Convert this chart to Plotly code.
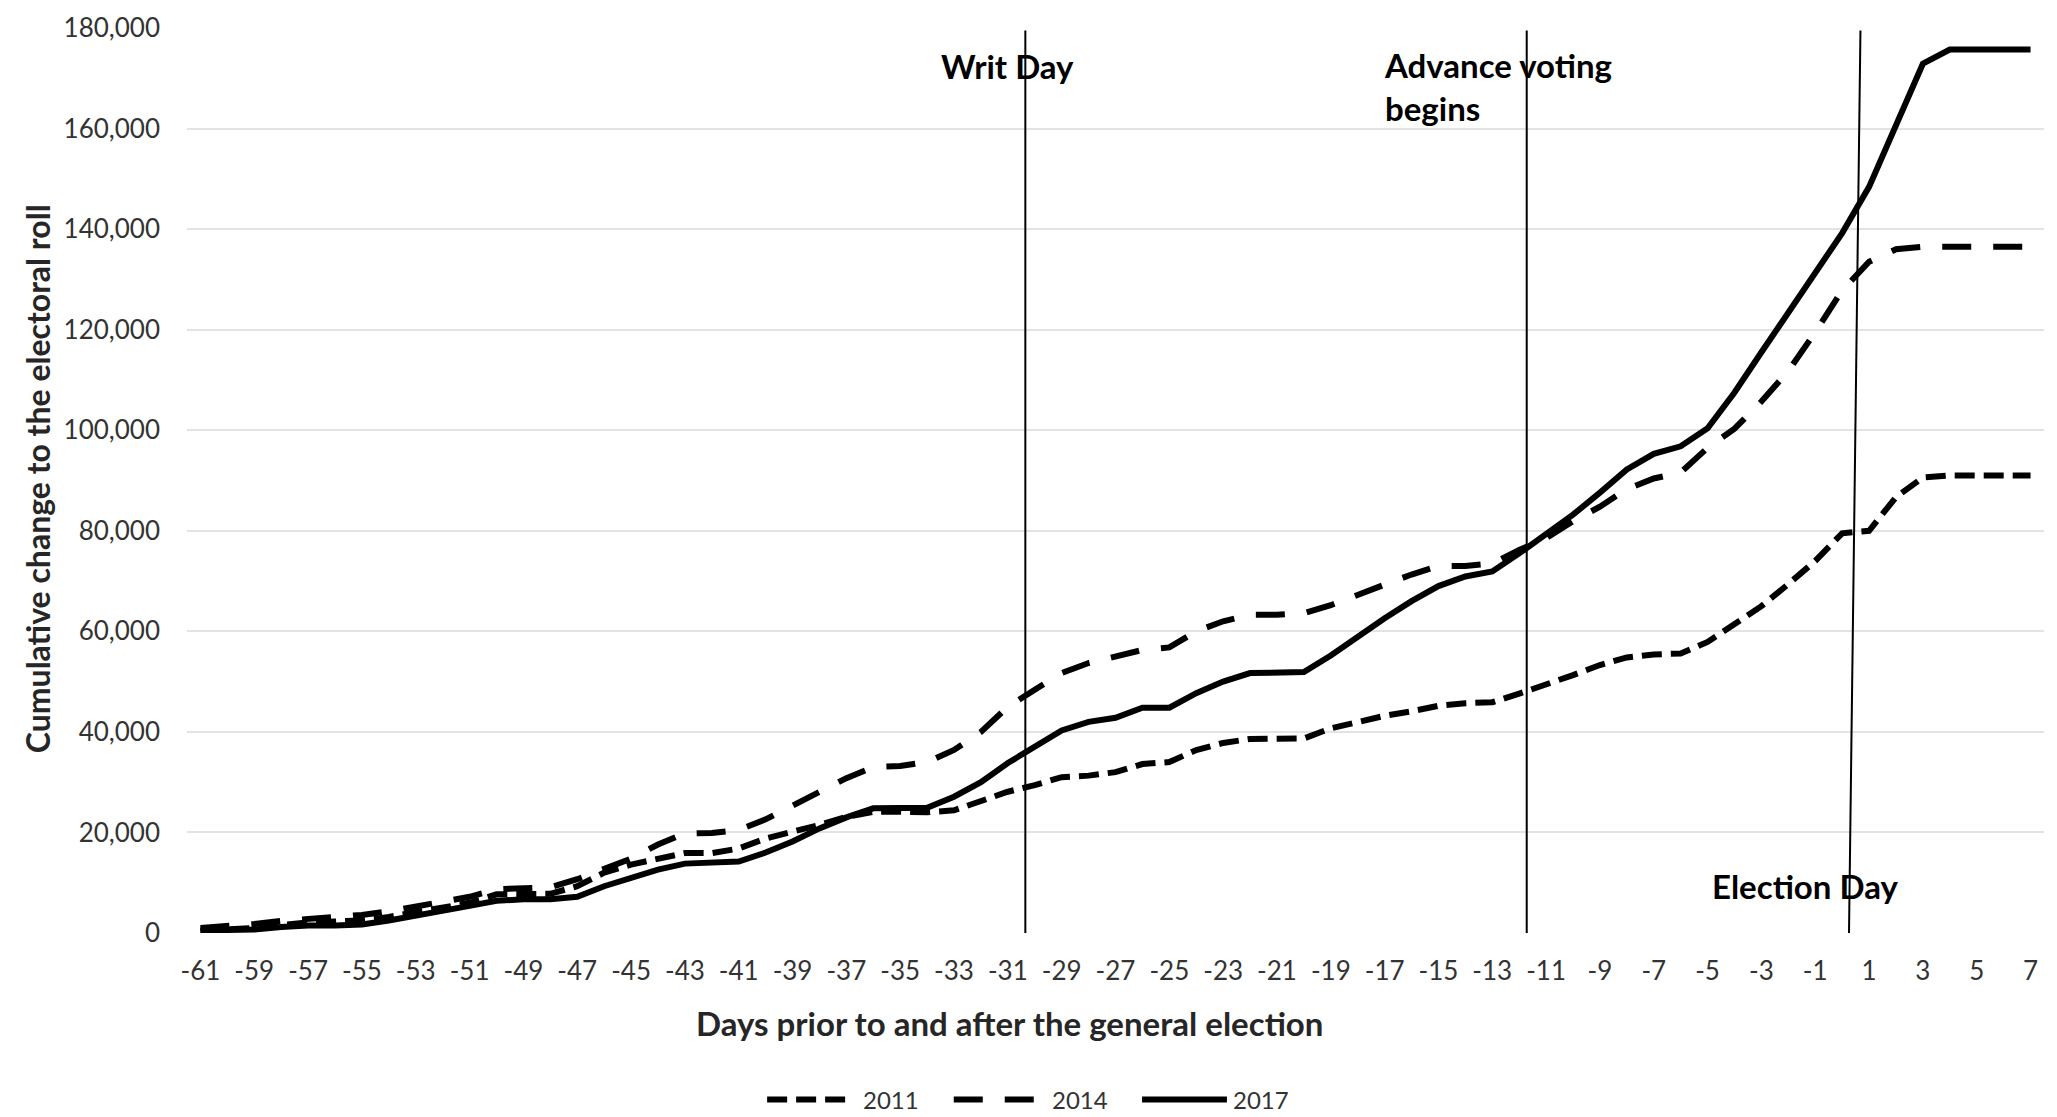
import plotly.graph_objects as go

# ---------------- data ----------------
days = [-61, -60, -59, -58, -57, -56, -55, -54, -53, -52, -51, -50, -49, -48, -47, -46,
        -45, -44, -43, -42, -41, -40, -39, -38, -37, -36, -35, -34, -33, -32, -31, -30,
        -29, -28, -27, -26, -25, -24, -23, -22, -21, -20, -19, -18, -17, -16, -15, -14,
        -13, -12, -11, -10, -9, -8, -7, -6, -5, -4, -3, -2, -1, 0, 1, 2, 3, 4, 5, 6, 7]

roll_2011 = [500, 700, 1000, 1600, 2100, 2300, 2500, 3200, 4100, 5000, 6000, 7700, 7700, 7800,
             9300, 12000, 13600, 14700, 15900, 15900, 16800, 18800, 20000, 21500, 23100, 24100,
             24100, 24000, 24400, 26100, 28100, 29400, 31000, 31300, 32000, 33600, 34000, 36400,
             37800, 38600, 38600, 38700, 40700, 42100, 43200, 44100, 45200, 45700, 45900, 47600,
             49300, 51300, 53300, 54800, 55400, 55600, 57900, 61400, 65000, 69400, 74000, 79500,
             80000, 86700, 90600, 91000, 91000, 91000, 91000]

roll_2014 = [1000, 1300, 1800, 2400, 2800, 3200, 3600, 4300, 5300, 6400, 7200, 8700, 8800, 9100,
             10700, 12700, 14800, 17600, 19800, 19900, 20500, 22600, 25400, 28000, 30800, 33000,
             33200, 34000, 36400, 40000, 45000, 48400, 51700, 53700, 55000, 56300, 56800, 60000,
             62000, 63300, 63300, 63600, 65200, 67400, 69300, 71300, 73000, 73000, 73500, 76200,
             78500, 81900, 84800, 88300, 90400, 91600, 96500, 100300, 105700, 111800, 119500,
             127800, 133500, 136000, 136500, 136500, 136500, 136500, 136500]

roll_2017 = [500, 500, 700, 1200, 1500, 1500, 1700, 2500, 3400, 4300, 5400, 6400, 6700, 6700,
             7200, 9300, 11000, 12600, 13800, 14100, 14200, 16000, 18200, 20800, 23000, 24800,
             24800, 24900, 27100, 30000, 33800, 37200, 40300, 42000, 42800, 44800, 44800, 47700,
             50000, 51700, 51800, 51900, 55200, 59000, 62600, 66000, 69000, 70900, 71900, 75500,
             79300, 83200, 87600, 92200, 95300, 96800, 100400, 107500, 115500, 123300, 131200,
             139200, 148400, 160500, 172900, 175700, 175700, 175700, 175700]

x_tick_values = [-61, -59, -57, -55, -53, -51, -49, -47, -45, -43, -41, -39, -37, -35, -33,
                 -31, -29, -27, -25, -23, -21, -19, -17, -15, -13, -11, -9, -7, -5, -3, -1,
                 1, 3, 5, 7]
x_tick_labels = ["-61", "-59", "-57", "-55", "-53", "-51", "-49", "-47", "-45", "-43", "-41",
                 "-39", "-37", "-35", "-33", "-31", "-29", "-27", "-25", "-23", "-21", "-19",
                 "-17", "-15", "-13", "-11", "-9", "-7", "-5", "-3", "-1", "1", "3", "5", "7"]

series_names = ["2011", "2014", "2017"]
series_dash = ["20px,9px", "29px,22px", "solid"]

# event marker lines (day at bottom, day at top) and labels
event_day_bottom = [-30.35, -11.72, 0.25]
event_day_top = [-30.35, -11.72, 0.68]

x_title = "Days prior to and after the general election"
y_title = "Cumulative change to the electoral roll"

FONT = "Lato"
BOLD_SIZE = 33

fig = go.Figure()
for name, vals, dash in zip(series_names, [roll_2011, roll_2014, roll_2017], series_dash):
    fig.add_trace(go.Scatter(
        x=days, y=vals, mode="lines", name=name,
        line=dict(color="#000000", width=6, dash=dash),
        showlegend=False,
    ))

# vertical event lines
for xb, xt in zip(event_day_bottom, event_day_top):
    fig.add_shape(type="line", xref="x", yref="y", x0=xb, x1=xt, y0=-1800, y1=179500,
                  line=dict(color="#000000", width=2), layer="above")

# event labels
fig.add_annotation(x=-31.03, y=172500, xref="x", yref="y", text="<b>Writ Day</b>",
                   showarrow=False, xanchor="center", yanchor="middle",
                   font=dict(family=FONT, size=BOLD_SIZE, color="#000000"))
fig.add_annotation(x=-17.1, y=168400, xref="x", yref="y", text="<b>Advance voting<br>begins</b>",
                   showarrow=False, xanchor="left", yanchor="middle", align="left",
                   font=dict(family=FONT, size=BOLD_SIZE, color="#000000"))
fig.add_annotation(x=-4.9, y=9350, xref="x", yref="y", text="<b>Election Day</b>",
                   showarrow=False, xanchor="left", yanchor="middle",
                   font=dict(family=FONT, size=BOLD_SIZE, color="#000000"))

# axis titles as annotations
fig.add_annotation(x=0.443, y=-0.0995, xref="paper", yref="paper", text="<b>" + x_title + "</b>",
                   showarrow=False, xanchor="center", yanchor="middle",
                   font=dict(family=FONT, size=33, color="#262626"))
fig.add_annotation(x=-0.0805, y=0.502, xref="paper", yref="paper", text="<b>" + y_title + "</b>",
                   showarrow=False, xanchor="center", yanchor="middle", textangle=-90,
                   font=dict(family=FONT, size=32, color="#262626"))

# manual legend
legend_x0 = [0.3124, 0.4129, 0.5143]
legend_x1 = [0.3555, 0.4565, 0.5600]
legend_tx = [0.3628, 0.4645, 0.5620]
legend_y = -0.184
for name, dash, a, b, t in zip(series_names, series_dash, legend_x0, legend_x1, legend_tx):
    fig.add_shape(type="line", xref="paper", yref="paper", x0=a, x1=b, y0=legend_y, y1=legend_y,
                  line=dict(color="#000000", width=6, dash=dash))
    fig.add_annotation(x=t, y=legend_y, xref="paper", yref="paper", text=name, showarrow=False,
                       xanchor="left", yanchor="middle",
                       font=dict(family=FONT, size=24, color="#333333"))

fig.update_layout(
    width=2057, height=1117, autosize=False,
    margin=dict(l=187, r=13, t=28, b=184, pad=0),
    paper_bgcolor="white", plot_bgcolor="white",
    font=dict(family=FONT, color="#333333"),
    showlegend=False,
)
fig.update_xaxes(
    range=[-61.5, 7.5], tickmode="array", tickvals=x_tick_values, ticktext=x_tick_labels,
    showgrid=False, zeroline=False, showline=False, ticks="", ticklabelstandoff=20,
    tickfont=dict(family=FONT, size=26, color="#333333"),
)
fig.update_yaxes(
    range=[0, 180000], dtick=20000, tickformat=",d", showgrid=True,
    gridcolor="#e3e3e3", gridwidth=1.5, zeroline=False, showline=False, ticks="",
    ticklabelstandoff=26,
    tickfont=dict(family=FONT, size=26, color="#333333"),
)

fig.write_html("out.html", config={"displayModeBar": False},
               post_script="document.body.style.margin='0';")
